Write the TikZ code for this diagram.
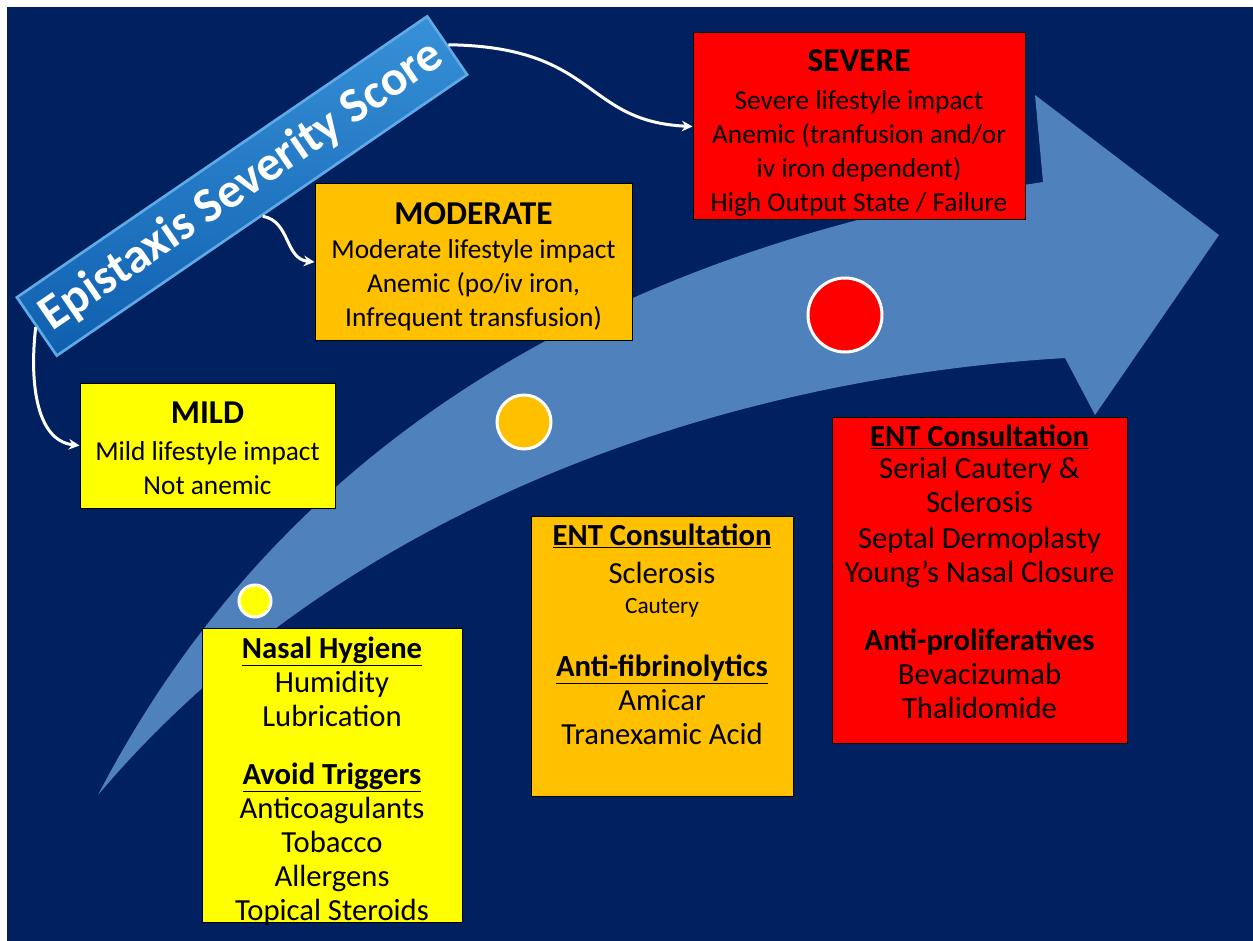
\documentclass[tikz,border=0pt]{standalone}
\usepackage{fontspec}
\setmainfont{Carlito}
\usetikzlibrary{arrows.meta}

\tikzset{every picture/.style={line width=0.75pt}}
\tikzset{
  levelbox/.style={draw=black, line width=0.75pt, inner sep=0pt},
  boxtext/.style={inner sep=0pt, align=center, text=black, font=\fontsize{20.5}{25.5}\selectfont},
  treattext/.style={inner sep=0pt, align=center, text=black, font=\fontsize{23}{25.5}\selectfont},
  stagedot/.style={circle, draw=white, line width=2.25pt, inner sep=0pt},
  banner/.style={draw={rgb, 255:red, 95; green, 170; blue, 230 }, line width=2pt, inner sep=0pt,
    top color={rgb, 255:red, 55; green, 145; blue, 215 }, bottom color={rgb, 255:red, 15; green, 95; blue, 175 },
    minimum width=373pt, minimum height=53pt, text=white, font=\bfseries\fontsize{37}{40}\selectfont},
  conn/.style={draw=white, line width=2.25pt, -{Stealth[length=8pt,width=8pt]}},
}
\newcommand{\levelname}[1]{{\bfseries\fontsize{25}{30}\selectfont #1}}
\newcommand{\treathead}[1]{{\bfseries\underline{#1}}}

\begin{document}
\begin{tikzpicture}[x=0.75pt,y=0.75pt,yscale=-1,xscale=1]
\useasboundingbox (0,0) rectangle (1253,941);

%Shape: Rectangle [background]
\fill[white] (0,0) rectangle (1253,941);
\fill[fill={rgb, 255:red, 0; green, 32; blue, 96 }] (7,7) rectangle (1253,941);

%Shape: Curved arrow
\fill[fill={rgb, 255:red, 79; green, 129; blue, 189 }] (98,795) .. controls (220,560) and (470,270) .. (1043,182) -- (1035,95) -- (1219,235) -- (1095,415) -- (1065,358) .. controls (700,380) and (330,520) .. (98,795) -- cycle ;

%Shape: Circles
\node[stagedot, fill={rgb, 255:red, 255; green, 255; blue, 0 }, minimum size=24pt] (dotmild) at (255,601) {};
\node[stagedot, fill={rgb, 255:red, 255; green, 192; blue, 0 }, minimum size=40.5pt] (dotmoderate) at (524,422) {};
\node[stagedot, fill={rgb, 255:red, 255; green, 0; blue, 0 }, minimum size=55.5pt] (dotsevere) at (845,315) {};

%Shape: Rectangle [level boxes]
\node[levelbox, fill={rgb, 255:red, 255; green, 255; blue, 0 }, minimum width=191.25pt, minimum height=93.75pt] (mild) at (207.5,445.5) {};
\node[levelbox, fill={rgb, 255:red, 255; green, 192; blue, 0 }, minimum width=237.75pt, minimum height=117pt] (moderate) at (473.5,262) {};
\node[levelbox, fill={rgb, 255:red, 255; green, 0; blue, 0 }, minimum width=249pt, minimum height=140.25pt] (severe) at (859,126.5) {};

%Shape: Rectangle [treatment boxes]
\node[levelbox, fill={rgb, 255:red, 255; green, 255; blue, 0 }, minimum width=195pt, minimum height=220.5pt] (hygiene) at (332,775) {};
\node[levelbox, fill={rgb, 255:red, 255; green, 192; blue, 0 }, minimum width=196.5pt, minimum height=210pt] (entmod) at (662,656) {};
\node[levelbox, fill={rgb, 255:red, 255; green, 0; blue, 0 }, minimum width=221.25pt, minimum height=244.5pt] (entsev) at (979.5,580) {};

% Text Node
\node[boxtext, anchor=north] (mildtext) at (207.5,401.5) {\levelname{MILD}\\[2pt] Mild lifestyle impact\\ Not anemic};
% Text Node
\node[boxtext, anchor=north] (moderatetext) at (473.5,202.5) {\levelname{MODERATE}\\ Moderate lifestyle impact\\ Anemic (po/iv iron,\\ Infrequent transfusion)};
% Text Node
\node[boxtext, anchor=north] (severetext) at (859,49.5) {\levelname{SEVERE}\\[3pt] Severe lifestyle impact\\ Anemic (tranfusion and/or\\ iv iron dependent)\\ High Output State / Failure};
% Text Node
\node[treattext, anchor=north] (hygienetext) at (332,636) {\treathead{Nasal Hygiene}\\ Humidity\\ Lubrication\\[18pt] \treathead{Avoid Triggers}\\ Anticoagulants\\ Tobacco\\ Allergens\\ Topical Steroids};
% Text Node
\node[treattext, anchor=north] (entmodtext) at (662,523) {\treathead{ENT Consultation}\\[3pt] Sclerosis\\[-3pt] {\fontsize{17.5}{20}\selectfont Cautery}\\[22pt] \treathead{Anti-fibrinolytics}\\ Amicar\\ Tranexamic Acid};
% Text Node
\node[treattext, anchor=north] (entsevtext) at (979.5,424) {\treathead{ENT Consultation}\\[-1.5pt] Serial Cautery \&\\ Sclerosis\\[2pt] Septal Dermoplasty\\ Young’s Nasal Closure\\[25pt] \textbf{Anti-proliferatives}\\ Bevacizumab\\ Thalidomide};

%Shape: Banner
\node[banner, rotate=34.4] (title) at (242,186) {Epistaxis Severity Score};

%Curve Lines
\draw[conn] (title.east) .. controls +(150,2) and +(-110,-5) .. (severe.west);
\draw[conn] (title.south) .. controls +(28,5) and +(-30,-3) .. (moderate.west);
\draw[conn] (title.west) .. controls +(-6,50) and +(-45,-5) .. (mild.west);

\end{tikzpicture}
\end{document}
